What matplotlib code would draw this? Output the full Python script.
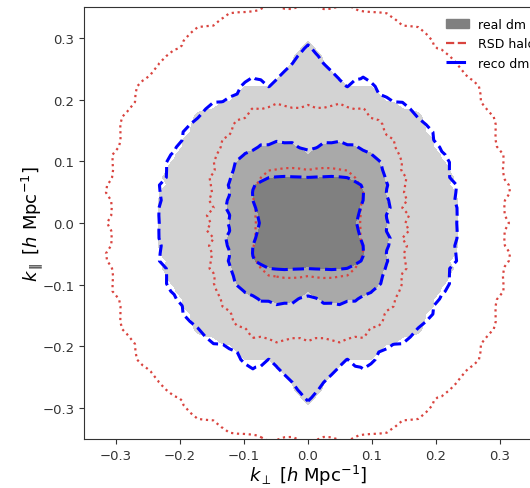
import numpy as np
import matplotlib
matplotlib.use('Agg')
import matplotlib.pyplot as plt
from matplotlib.patches import Patch
from matplotlib.lines import Line2D

# k grid (spacing of the measured 2D spectrum)
dk = 0.0123
k = dk * np.arange(-30, 31)

# contour radii [h/Mpc], per angle (deg) from the k_perp axis
angles = list(range(0, 91, 5))

real_inner = [0.074, 0.078, 0.080, 0.084, 0.088, 0.094, 0.100, 0.104, 0.106, 0.100,
              0.094, 0.090, 0.086, 0.082, 0.078, 0.076, 0.074, 0.073, 0.072]
real_mid = [0.122, 0.118, 0.126, 0.130, 0.124, 0.135, 0.140, 0.134, 0.150, 0.145,
            0.152, 0.140, 0.145, 0.135, 0.138, 0.130, 0.128, 0.115, 0.110]
real_outer = [0.232, 0.230, 0.235, 0.228, 0.238, 0.232, 0.228, 0.236, 0.232, 0.245,
              0.238, 0.232, 0.230, 0.240, 0.234, 0.226, 0.238, 0.262, 0.292]

reco_inner = [0.077, 0.080, 0.082, 0.086, 0.090, 0.096, 0.101, 0.105, 0.104, 0.100,
              0.096, 0.091, 0.088, 0.084, 0.080, 0.078, 0.076, 0.075, 0.074]
reco_mid = [0.124, 0.121, 0.128, 0.131, 0.127, 0.137, 0.141, 0.137, 0.151, 0.147,
            0.150, 0.142, 0.147, 0.137, 0.140, 0.132, 0.130, 0.118, 0.114]
reco_outer = [0.228, 0.232, 0.226, 0.236, 0.232, 0.242, 0.234, 0.236, 0.244, 0.236,
              0.246, 0.236, 0.232, 0.242, 0.250, 0.222, 0.242, 0.260, 0.285]

rsd_inner = [0.082, 0.078, 0.086, 0.084, 0.090, 0.094, 0.100, 0.098, 0.108, 0.104,
             0.110, 0.104, 0.100, 0.098, 0.094, 0.092, 0.088, 0.090, 0.086]
rsd_mid = [0.150, 0.158, 0.148, 0.160, 0.155, 0.170, 0.165, 0.180, 0.178, 0.190,
           0.185, 0.200, 0.195, 0.205, 0.195, 0.200, 0.190, 0.185, 0.190]
rsd_outer = [0.310, 0.305, 0.318, 0.310, 0.322, 0.318, 0.335, 0.330, 0.345, 0.340,
             0.350, 0.345, 0.360, 0.352, 0.358, 0.350, 0.355, 0.345, 0.350]


def level_field(radii):
    kx, ky = np.meshgrid(k, k)
    r = np.hypot(kx, ky)
    th = np.degrees(np.arctan2(np.abs(ky), np.abs(kx)))
    n = len(radii)
    f = np.zeros_like(r)
    for i in range(r.shape[0]):
        for j in range(r.shape[1]):
            rs = [np.interp(th[i, j], angles, rr) for rr in radii]
            f[i, j] = np.interp(r[i, j], [0] + rs + [1.0], list(range(n + 1, -1, -1)))
    return f


real = level_field([real_inner, real_mid, real_outer])
reco = level_field([reco_inner, reco_mid, reco_outer])
rsd = level_field([rsd_inner, rsd_mid, rsd_outer])

fig = plt.figure(figsize=(5.3, 4.89), dpi=100)
ax = fig.add_axes([84 / 530, 49 / 489, 448 / 530, 432 / 489])

ax.contourf(k, k, real, levels=[1, 2, 3, 5], colors=['lightgray', 'darkgray', 'gray'])
ax.contour(k, k, rsd, levels=[1, 2, 3], colors='#d9443f', linestyles=':', linewidths=1.6)
ax.contour(k, k, reco, levels=[1, 2, 3], colors='blue', linestyles='--', linewidths=2.2)

ax.set_xlim(-0.35, 0.35)
ax.set_ylim(-0.35, 0.35)
ax.set_xticks([-0.3, -0.2, -0.1, 0.0, 0.1, 0.2, 0.3])
ax.set_yticks([-0.3, -0.2, -0.1, 0.0, 0.1, 0.2, 0.3])
ax.tick_params(labelsize=9.5, colors='#333333')
for s in ax.spines.values():
    s.set_color('#333333')

ax.set_xlabel(r'$k_\perp$ [$h$ Mpc$^{-1}$]', fontsize=13, labelpad=1)
ax.set_ylabel(r'$k_\parallel$ [$h$ Mpc$^{-1}$]', fontsize=13, labelpad=-2)

handles = [Patch(color='gray', label='real dm'),
           Line2D([], [], color='#d9443f', ls='--', lw=1.6, label='RSD halo'),
           Line2D([], [], color='blue', ls='-.', lw=2.2, label='reco dm')]
fig.legend(handles=handles, loc='upper left', bbox_to_anchor=(441 / 530, 1 - 14 / 489),
           frameon=False, fontsize=9, handlelength=1.8, borderaxespad=0)

fig.savefig('out.png', dpi=100)
